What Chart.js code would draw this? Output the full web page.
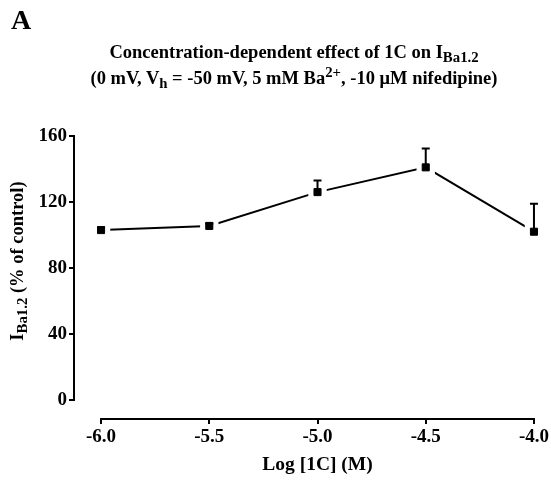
<!DOCTYPE html>
<html>
<head>
<meta charset="utf-8">
<script src="https://cdn.jsdelivr.net/npm/chart.js@4/dist/chart.umd.min.js"></script>
<style>
  html, body { margin: 0; padding: 0; background: #fff; }
  #wrap { position: relative; width: 551px; height: 481px; font-family: "Liberation Serif", "DejaVu Serif", serif; font-weight: bold; color: #000; }
  #c { position: absolute; left: 0; top: 0; }
  #panel { position: absolute; left: 11px; top: 5px; font-size: 28px; line-height: 30px; }
  #title { position: absolute; left: 0; width: 588px; top: 39px; text-align: center; font-size: 18.5px; line-height: 26px; white-space: nowrap; }
  #title sub, #ylab sub { font-size: 0.8em; vertical-align: -0.3em; line-height: 0; }
  #title sup { font-size: 0.8em; vertical-align: 0.45em; line-height: 0; }
  #ylab { position: absolute; left: 17px; top: 261px; transform: translate(-50%, -50%) rotate(-90deg); font-size: 18.5px; white-space: nowrap; line-height: 20px; }
</style>
</head>
<body>
<div id="wrap">
  <canvas id="c" width="551" height="481"></canvas>
  <div id="panel">A</div>
  <div id="title">Concentration-dependent effect of 1C on I<sub>Ba1.2</sub><br>(0 mV, V<sub>h</sub> = -50 mV, 5 mM Ba<sup>2+</sup>, -10 μM nifedipine)</div>
  <div id="ylab">I<sub>Ba1.2</sub> (% of control)</div>
</div>
<script>
// ---- data ----
const logConc = [-6.0, -5.5, -5.0, -4.5, -4.0];
const meanPct = [103, 105.5, 126, 141, 102];
const semPct  = [1.5, 1.5, 7, 11.5, 17];
const xTicks  = [-6.0, -5.5, -5.0, -4.5, -4.0];
const yTicks  = [0, 40, 80, 120, 160];
const xTitle  = 'Log [1C] (M)';

const pts = logConc.map((x, i) => ({ x: x, y: meanPct[i] }));
const FONT = '"Liberation Serif", "DejaVu Serif", serif';

const axisLines = {
  id: 'axisLines',
  afterDraw(chart) {
    const { ctx, chartArea, scales } = chart;
    const xs = scales.x, ys = scales.y;
    ctx.save();
    ctx.strokeStyle = '#000';
    ctx.lineWidth = 2;
    ctx.lineCap = 'square';
    ctx.beginPath();
    ctx.moveTo(chartArea.left, ys.getPixelForValue(yTicks[0]));
    ctx.lineTo(chartArea.left, ys.getPixelForValue(yTicks[yTicks.length - 1]));
    ctx.moveTo(xs.getPixelForValue(xTicks[0]), chartArea.bottom);
    ctx.lineTo(xs.getPixelForValue(xTicks[xTicks.length - 1]), chartArea.bottom);
    ctx.stroke();
    // x axis title centred under the x axis line
    ctx.fillStyle = '#000';
    ctx.font = 'bold 19.5px ' + FONT;
    ctx.textAlign = 'center';
    ctx.textBaseline = 'middle';
    const cx = (xs.getPixelForValue(xTicks[0]) + xs.getPixelForValue(xTicks[xTicks.length - 1])) / 2;
    ctx.fillText(xTitle, cx, 465);
    ctx.restore();
  }
};

const errorBars = {
  id: 'errorBars',
  afterDatasetsDraw(chart) {
    const { ctx, scales } = chart;
    const xs = scales.x, ys = scales.y;
    ctx.save();
    ctx.strokeStyle = '#000';
    ctx.lineWidth = 2;
    ctx.beginPath();
    logConc.forEach((xv, i) => {
      const px = xs.getPixelForValue(xv);
      const y0 = ys.getPixelForValue(meanPct[i]);
      const y1 = ys.getPixelForValue(meanPct[i] + semPct[i]);
      ctx.moveTo(px, y0);
      ctx.lineTo(px, y1);
      ctx.moveTo(px - 4, y1);
      ctx.lineTo(px + 4, y1);
    });
    ctx.stroke();
    ctx.restore();
  }
};

new Chart(document.getElementById('c'), {
  type: 'scatter',
  data: {
    datasets: [
      { data: pts, showLine: true, borderColor: '#000', borderWidth: 2, pointRadius: 0, order: 3, clip: false },
      { data: pts, showLine: false, pointStyle: 'rect', pointRadius: 13, backgroundColor: '#fff', borderColor: '#fff', borderWidth: 0, order: 2, clip: false },
      { data: pts, showLine: false, pointStyle: 'rect', pointRadius: 5, backgroundColor: '#000', borderColor: '#000', borderWidth: 1, order: 1, clip: false }
    ]
  },
  options: {
    responsive: false,
    animation: false,
    events: [],
    layout: { padding: { left: 0, top: 136, right: 17, bottom: 0 } },
    plugins: { legend: { display: false }, tooltip: { enabled: false }, title: { display: false } },
    scales: {
      x: {
        type: 'linear',
        min: -6.125,
        max: -4,
        afterBuildTicks(s) { s.ticks = xTicks.map(v => ({ value: v })); },
        afterFit(s) { s.height = 62; },
        border: { display: false },
        grid: { display: true, drawOnChartArea: false, drawTicks: true, tickLength: 5, color: '#000', lineWidth: 2 },
        ticks: { color: '#000', font: { family: FONT, size: 19, weight: 'bold' }, padding: 2, maxRotation: 0, autoSkip: false,
                 callback: v => Number(v).toFixed(1) }
      },
      y: {
        type: 'linear',
        min: -11.5,
        max: 160,
        afterBuildTicks(s) { s.ticks = yTicks.map(v => ({ value: v })); },
        afterFit(s) { s.width = 74; },
        border: { display: false },
        grid: { display: true, drawOnChartArea: false, drawTicks: true, tickLength: 5, color: '#000', lineWidth: 2 },
        ticks: { color: '#000', font: { family: FONT, size: 19, weight: 'bold' }, padding: 2, autoSkip: false,
                 callback: v => String(v) }
      }
    }
  },
  plugins: [axisLines, errorBars]
});
</script>
</body>
</html>
